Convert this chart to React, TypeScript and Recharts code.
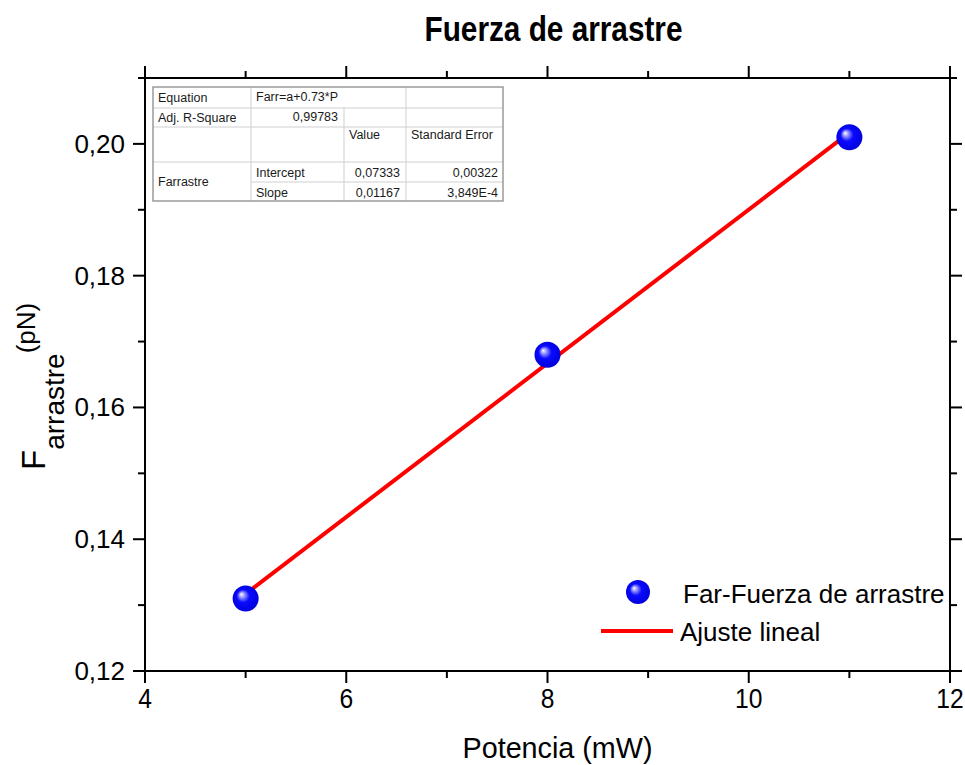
import React from 'react';
import { ComposedChart, XAxis, YAxis, Scatter, Line, Legend } from 'recharts';

// Measured drag force against laser power
const potencia = [5, 8, 11];
const fuerza = [0.131, 0.168, 0.201];

// Linear fit end points (Farr = 0.07333 + 0.01167 * P)
const fitPotencia = [5, 11];
const fitFuerza = [0.1317, 0.2017];

// Axis ticks
const xTicks = [4, 5, 6, 7, 8, 9, 10, 11, 12];
const xMajorTicks = [4, 6, 8, 10, 12];
const yTicks = [0.12, 0.13, 0.14, 0.15, 0.16, 0.17, 0.18, 0.19, 0.2, 0.21];
const yMajorTicks = [0.12, 0.14, 0.16, 0.18, 0.2];

// Series names
const scatterName = 'Far-Fuerza de arrastre';
const fitName = 'Ajuste lineal';

// Fit results table
const tableEquationLabel = 'Equation';
const tableEquation = 'Farr=a+0.73*P';
const tableR2Label = 'Adj. R-Square';
const tableR2 = '0,99783';
const tableHeaders = ['Value', 'Standard Error'];
const tableGroup = 'Farrastre';
const tableParams = ['Intercept', 'Slope'];
const tableValues = ['0,07333', '0,01167'];
const tableErrors = ['0,00322', '3,849E-4'];

const points = potencia.map((x, i) => ({ x, y: fuerza[i] }));
const fitLine = fitPotencia.map((x, i) => ({ x, y: fitFuerza[i] }));

const FONT = '"Liberation Sans", Arial, Helvetica, sans-serif';
const W = 965;
const H = 765;

const isMajor = (v: number, list: number[]) => list.some((m) => Math.abs(m - v) < 1e-9);
const fmtY = (v: number) => v.toFixed(2).replace('.', ',');

function BottomTick(props: any) {
  const { x, y, payload } = props;
  const major = isMajor(payload.value, xMajorTicks);
  return (
    <g>
      <line x1={x} x2={x} y1={y} y2={y + (major ? 12 : 7)} stroke="#000" strokeWidth={2} />
      {major && (
        <text
          x={x}
          y={y + 37}
          textAnchor="middle"
          fontSize={28}
          fontFamily={FONT}
          fill="#000"
          transform={`translate(${x} 0) scale(0.88 1) translate(${-x} 0)`}
        >
          {payload.value}
        </text>
      )}
    </g>
  );
}

function TopTick(props: any) {
  const { x, y, payload } = props;
  const major = isMajor(payload.value, xMajorTicks);
  return <line x1={x} x2={x} y1={y} y2={y - (major ? 12 : 7)} stroke="#000" strokeWidth={2} />;
}

function LeftTick(props: any) {
  const { x, y, payload } = props;
  const major = isMajor(payload.value, yMajorTicks);
  return (
    <g>
      <line x1={x - (major ? 12 : 7)} x2={x} y1={y} y2={y} stroke="#000" strokeWidth={2} />
      {major && (
        <text x={x - 20} y={y + 9} textAnchor="end" fontSize={26} fontFamily={FONT} fill="#000">
          {fmtY(payload.value)}
        </text>
      )}
    </g>
  );
}

function RightTick(props: any) {
  const { x, y, payload } = props;
  const major = isMajor(payload.value, yMajorTicks);
  return <line x1={x} x2={x + (major ? 12 : 7)} y1={y} y2={y} stroke="#000" strokeWidth={2} />;
}

function TitleLabel(props: any) {
  const { viewBox } = props;
  return (
    <text
      x={viewBox.x + viewBox.width / 2 + 6}
      y={viewBox.y + 41}
      textAnchor="middle"
      fontSize={35}
      fontWeight="bold"
      fontFamily={FONT}
      textLength={258}
      lengthAdjust="spacingAndGlyphs"
      fill="#000"
    >
      Fuerza de arrastre
    </text>
  );
}

function XTitle(props: any) {
  const { viewBox } = props;
  return (
    <text
      x={viewBox.x + viewBox.width / 2 + 10}
      y={viewBox.y + 87}
      textAnchor="middle"
      fontSize={29}
      fontFamily={FONT}
      textLength={190}
      lengthAdjust="spacingAndGlyphs"
      fill="#000"
    >
      Potencia (mW)
    </text>
  );
}

function YTitle(props: any) {
  const { viewBox } = props;
  const x0 = viewBox.x + 45;
  const y0 = viewBox.y + viewBox.height - 201;
  return (
    <text x={x0} y={y0} transform={`rotate(-90, ${x0}, ${y0})`} fontFamily={FONT} fill="#000">
      <tspan fontSize={33}>F</tspan>
      <tspan fontSize={28} dy={19}>arrastre</tspan>
      <tspan fontSize={26} dy={-29}>(pN)</tspan>
    </text>
  );
}

function SphereDefs({ id }: { id: string }) {
  return (
    <defs>
      <radialGradient id={id} cx="50%" cy="50%" r="55%" fx="33%" fy="33%">
        <stop offset="0%" stopColor="#ffffff" />
        <stop offset="18%" stopColor="#9a9aff" />
        <stop offset="45%" stopColor="#0a0aff" />
        <stop offset="100%" stopColor="#0000d8" />
      </radialGradient>
    </defs>
  );
}

function Sphere(props: any) {
  const { cx, cy, index } = props;
  const id = `sphere-grad-${index}`;
  return (
    <g>
      <SphereDefs id={id} />
      <circle cx={cx} cy={cy} r={13} fill={`url(#${id})`} />
    </g>
  );
}

function LegendBox() {
  return (
    <svg width={360} height={80} style={{ display: 'block' }}>
      <SphereDefs id="legend-sphere" />
      <circle cx={43} cy={20} r={12} fill="url(#legend-sphere)" />
      <text x={88} y={31} fontSize={26} fontFamily={FONT} fill="#000">
        {scatterName}
      </text>
      <line x1={6} x2={78} y1={59} y2={59} stroke="#ff0000" strokeWidth={4} />
      <text x={85} y={69} fontSize={26} fontFamily={FONT} fill="#000">
        {fitName}
      </text>
    </svg>
  );
}

function FitTable() {
  const cols = [153, 251, 344, 406, 503];
  const rows = [87, 108, 127, 162, 182, 201];
  const inner = '#cfcfcf';
  const t = { fontSize: 12.5, fontFamily: FONT, fill: '#1a1a1a' } as const;
  return (
    <svg
      width={W}
      height={H}
      style={{ position: 'absolute', left: 0, top: 0, pointerEvents: 'none' }}
    >
      <rect x={cols[0]} y={rows[0]} width={cols[4] - cols[0]} height={rows[5] - rows[0]} fill="#fff" />
      {/* horizontal rules */}
      <line x1={cols[0]} x2={cols[4]} y1={rows[1]} y2={rows[1]} stroke={inner} />
      <line x1={cols[0]} x2={cols[4]} y1={rows[2]} y2={rows[2]} stroke={inner} />
      <line x1={cols[0]} x2={cols[4]} y1={rows[3]} y2={rows[3]} stroke={inner} />
      <line x1={cols[1]} x2={cols[4]} y1={rows[4]} y2={rows[4]} stroke={inner} />
      {/* vertical rules */}
      <line x1={cols[1]} x2={cols[1]} y1={rows[0]} y2={rows[5]} stroke={inner} />
      <line x1={cols[2]} x2={cols[2]} y1={rows[1]} y2={rows[5]} stroke={inner} />
      <line x1={cols[3]} x2={cols[3]} y1={rows[0]} y2={rows[5]} stroke={inner} />
      <rect
        x={cols[0]}
        y={rows[0]}
        width={cols[4] - cols[0]}
        height={rows[5] - rows[0]}
        fill="none"
        stroke="#9a9a9a"
        strokeWidth={1.5}
      />
      <text x={158} y={102} {...t}>{tableEquationLabel}</text>
      <text x={256} y={101} {...t}>{tableEquation}</text>
      <text x={158} y={122} {...t}>{tableR2Label}</text>
      <text x={338} y={121} textAnchor="end" {...t}>{tableR2}</text>
      <text x={349} y={139} {...t}>{tableHeaders[0]}</text>
      <text x={411} y={139} {...t}>{tableHeaders[1]}</text>
      <text x={158} y={186} {...t}>{tableGroup}</text>
      {tableParams.map((p, i) => (
        <g key={p}>
          <text x={256} y={177 + i * 20} {...t}>{p}</text>
          <text x={400} y={177 + i * 20} textAnchor="end" {...t}>{tableValues[i]}</text>
          <text x={498} y={177 + i * 20} textAnchor="end" {...t}>{tableErrors[i]}</text>
        </g>
      ))}
    </svg>
  );
}

export default function App() {
  return (
    <div style={{ position: 'absolute', left: 0, top: 0, width: W, height: H, background: '#fff' }}>
      <ComposedChart width={W} height={H} margin={{ top: 0, right: 0, bottom: 0, left: 0 }}>
        <XAxis
          xAxisId={0}
          type="number"
          dataKey="x"
          domain={[4, 12]}
          ticks={xTicks}
          interval={0}
          allowDataOverflow
          height={94}
          tickSize={0}
          tickMargin={0}
          tickLine={false}
          axisLine={{ stroke: '#000', strokeWidth: 2 }}
          tick={<BottomTick />}
          label={<XTitle />}
        />
        <XAxis
          xAxisId="top"
          orientation="top"
          type="number"
          dataKey="x"
          domain={[4, 12]}
          ticks={xTicks}
          interval={0}
          allowDataOverflow
          height={78}
          tickSize={0}
          tickMargin={0}
          tickLine={false}
          axisLine={{ stroke: '#000', strokeWidth: 2 }}
          tick={<TopTick />}
          label={<TitleLabel />}
        />
        <YAxis
          yAxisId={0}
          type="number"
          domain={[0.12, 0.21]}
          ticks={yTicks}
          interval={0}
          allowDataOverflow
          width={145}
          tickSize={0}
          tickMargin={0}
          tickLine={false}
          axisLine={{ stroke: '#000', strokeWidth: 2 }}
          tick={<LeftTick />}
          label={<YTitle />}
        />
        <YAxis
          yAxisId="right"
          orientation="right"
          type="number"
          domain={[0.12, 0.21]}
          ticks={yTicks}
          interval={0}
          allowDataOverflow
          width={15}
          tickSize={0}
          tickMargin={0}
          tickLine={false}
          axisLine={{ stroke: '#000', strokeWidth: 2 }}
          tick={<RightTick />}
        />
        <Scatter
          name={scatterName}
          data={points}
          dataKey="y"
          xAxisId={0}
          yAxisId={0}
          shape={<Sphere />}
          isAnimationActive={false}
        />
        <Line
          name={fitName}
          data={fitLine}
          dataKey="y"
          xAxisId={0}
          yAxisId={0}
          type="linear"
          stroke="#ff0000"
          strokeWidth={4}
          dot={false}
          activeDot={false}
          isAnimationActive={false}
        />
        <Legend
          layout="horizontal"
          verticalAlign="middle"
          align="center"
          content={() => <LegendBox />}
          wrapperStyle={{ position: 'absolute', left: 595, top: 572, width: 360, height: 80 }}
        />
      </ComposedChart>
      <FitTable />
    </div>
  );
}
